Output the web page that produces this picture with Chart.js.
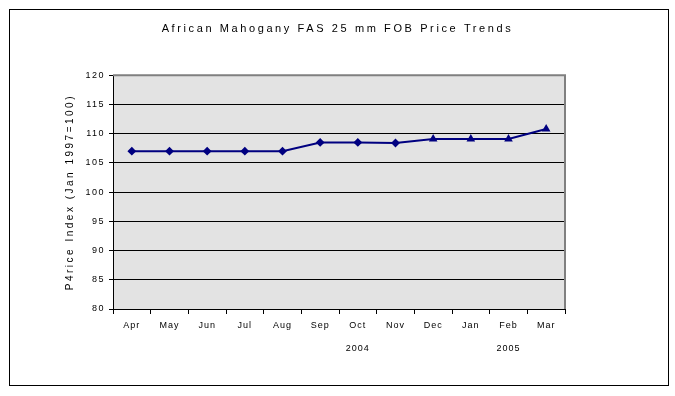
<!DOCTYPE html>
<html>
<head>
<meta charset="utf-8">
<script src="https://cdn.jsdelivr.net/npm/chart.js@4"></script>
<style>
  body { margin: 0; background: #fff; }
</style>
</head>
<body>
<canvas id="price-chart" width="675" height="396"></canvas>
<script>
// data
var months = ['Apr', 'May', 'Jun', 'Jul', 'Aug', 'Sep', 'Oct', 'Nov', 'Dec', 'Jan', 'Feb', 'Mar'];
var years = ['', '', '', '', '', '', '2004', '', '', '', '2005', ''];
var priceIndex = [107, 107, 107, 107, 107, 108.5, 108.5, 108.4, 109.1, 109.1, 109.1, 110.8];
var markers = ['rectRot', 'rectRot', 'rectRot', 'rectRot', 'rectRot', 'rectRot', 'rectRot', 'rectRot', 'triangle', 'triangle', 'triangle', 'triangle'];

var labels = months.map(function (m, i) {
  return years[i] ? [m, years[i]] : m;
});

// put some letter spacing on a text drawing method
function spaced(obj, name, sp) {
  if (!obj || obj['_sp_' + name]) return;
  var orig = obj[name].bind(obj);
  obj[name] = function () {
    var c = obj.ctx;
    var old = c.letterSpacing;
    c.letterSpacing = sp;
    orig.apply(null, arguments);
    c.letterSpacing = old;
  };
  obj['_sp_' + name] = true;
}

var frame = {
  id: 'frame',
  afterLayout: function (chart) {
    spaced(chart.titleBlock, 'draw', '2.6px');
    spaced(chart.scales.y, 'drawTitle', '2.5px');
    spaced(chart.scales.y, 'drawLabels', '1.5px');
    spaced(chart.scales.x, 'drawLabels', '1px');
  },
  beforeDraw: function (chart) {
    var ctx = chart.ctx, a = chart.chartArea;
    ctx.save();
    ctx.fillStyle = '#e3e3e3';
    ctx.fillRect(a.left, a.top, a.right - a.left, a.bottom - a.top);
    ctx.restore();
  },
  beforeDatasetsDraw: function (chart) {
    var ctx = chart.ctx, a = chart.chartArea;
    ctx.save();
    ctx.strokeStyle = '#808080';
    ctx.lineWidth = 2;
    ctx.beginPath();
    ctx.moveTo(a.left, a.top);
    ctx.lineTo(a.right, a.top);
    ctx.lineTo(a.right, a.bottom);
    ctx.stroke();
    ctx.restore();
  },
  afterDraw: function (chart) {
    var ctx = chart.ctx;
    ctx.save();
    ctx.strokeStyle = '#000';
    ctx.lineWidth = 1;
    ctx.strokeRect(9.5, 9.5, 659, 376);
    ctx.restore();
  }
};

Chart.defaults.font.family = 'Arial, "Liberation Sans", sans-serif';
Chart.defaults.color = '#000';

var config = {
  type: 'line',
  data: {
    labels: labels,
    datasets: [{
      data: priceIndex,
      borderColor: '#000080',
      backgroundColor: '#000080',
      borderWidth: 2,
      pointStyle: markers,
      pointRadius: 3,
      pointBackgroundColor: '#000080',
      pointBorderColor: '#000080',
      tension: 0,
      fill: false
    }]
  },
  options: {
    responsive: false,
    animation: false,
    layout: { padding: 0 },
    plugins: {
      legend: { display: false },
      tooltip: { enabled: false },
      title: {
        display: true,
        text: 'African Mahogany FAS 25 mm FOB Price Trends',
        font: { size: 11, weight: 'normal' },
        color: '#000',
        padding: { top: 22, bottom: 40 }
      }
    },
    scales: {
      x: {
        offset: true,
        grid: { offset: true, drawOnChartArea: false, tickLength: 5, color: '#000' },
        border: { color: '#000', width: 1 },
        ticks: {
          autoSkip: false,
          maxRotation: 0,
          padding: 0,
          font: { size: 9, lineHeight: '23px' }
        },
        afterFit: function (s) { s.height = 87; }
      },
      y: {
        min: 80,
        max: 120,
        ticks: { stepSize: 5, padding: 4, font: { size: 9 } },
        grid: { color: '#000', tickLength: 4 },
        border: { color: '#000', width: 1 },
        title: {
          display: true,
          text: 'P4rice Index (Jan 1997=100)',
          font: { size: 10 },
          padding: { top: 64, bottom: 0 }
        },
        afterFit: function (s) { s.width = 113; }
      },
      pad: {
        position: 'right',
        display: true,
        grid: { display: false },
        border: { display: false },
        ticks: { display: false },
        afterFit: function (s) { s.width = 110; }
      }
    }
  },
  plugins: [frame]
};

var ctx = document.getElementById('price-chart').getContext('2d');
window.myLine = new Chart(ctx, config);
</script>
</body>
</html>
